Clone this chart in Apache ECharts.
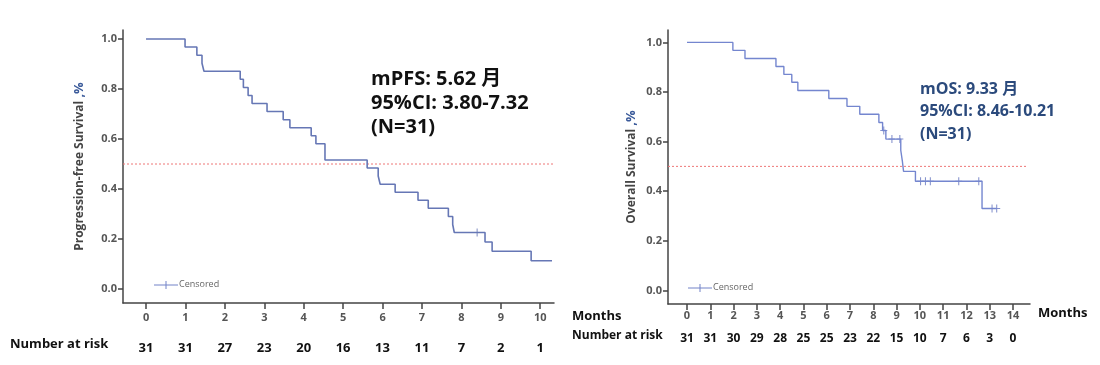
<!DOCTYPE html>
<html><head><meta charset="utf-8">
<script src="https://cdn.jsdelivr.net/npm/echarts@6/dist/echarts.min.js"></script>
<style>html,body{margin:0;padding:0;background:#fff}#c{width:1100px;height:365px}</style>
</head><body><div id="c"></div>
<script>
// ---- PFS (left) ----
const pfsTimes = [0,0.99,1.29,1.42,1.47,2.39,2.47,2.59,2.69,3.07,3.48,3.65,4.19,4.31,4.54,5.61,5.89,5.94,6.32,6.90,7.16,7.67,7.78,7.82,8.60,8.78,9.77,10.30];
const pfsSurv  = [1,0.968,0.935,0.903,0.871,0.839,0.806,0.774,0.742,0.710,0.677,0.645,0.613,0.581,0.516,0.484,0.452,0.419,0.387,0.355,0.323,0.290,0.258,0.226,0.188,0.151,0.113,0.113];
const pfsCensorT = [8.40];
const pfsCensorS = [0.226];
const pfsTicks = [0,1,2,3,4,5,6,7,8,9,10];
const pfsRisk  = [31,31,27,23,20,16,13,11,7,2,1];
// ---- OS (right) ----
const osTimes = [0,1.97,2.49,3.82,4.16,4.50,4.76,6.09,6.87,7.42,8.24,8.40,8.54,9.18,9.25,9.30,9.81,12.67,13.30];
const osSurv  = [1,0.968,0.935,0.903,0.871,0.839,0.806,0.774,0.742,0.710,0.677,0.645,0.610,0.565,0.520,0.480,0.440,0.330,0.330];
const osCensorT = [8.45,8.80,9.14,10.03,10.24,10.45,11.67,12.53,13.10,13.30];
const osCensorS = [0.645,0.610,0.610,0.440,0.440,0.440,0.440,0.440,0.330,0.330];
const osTicks = [0,1,2,3,4,5,6,7,8,9,10,11,12,13,14];
const osRisk  = [31,31,30,29,28,25,25,23,22,15,10,7,6,3,0];
const yTicks = [0,0.2,0.4,0.6,0.8,1.0];
const refLevel = 0.5;

const zip = (a,b) => a.map((v,i)=>[v,b[i]]);
const plus = 'path://M-0.6,-5H0.6V-0.6H4V0.6H0.6V5H-0.6V0.6H-4V-0.6H-0.6Z';
const axisColor = '#444';
const fontFam = '"Open Sans","Noto Sans CJK SC",sans-serif';

function xAx(grid, min, max, ticks, labelMargin){
  return {type:'value', gridIndex:grid, min:min, max:max,
    axisLine:{show:true, onZero:false, lineStyle:{color:axisColor, width:1.5}},
    axisTick:{show:true, length:6, customValues:ticks, lineStyle:{color:axisColor, width:1.5}},
    axisLabel:{customValues:ticks, margin:labelMargin, fontSize:11, fontWeight:'bold', color:'#555', fontFamily:fontFam},
    splitLine:{show:false}};
}
function riskAx(grid, min, max, ticks, risk, offset, size, margin){
  return {type:'value', gridIndex:grid, min:min, max:max, position:'bottom', offset:offset,
    axisLine:{show:false}, axisTick:{show:false}, splitLine:{show:false},
    axisLabel:{customValues:ticks, margin:margin, fontSize:size, fontWeight:'bold', color:'#111', fontFamily:fontFam,
      formatter:v=>String(risk[ticks.indexOf(Math.round(v))])}};
}
function yAx(grid, min, max, name, gap){
  return {type:'value', gridIndex:grid, min:min, max:max,
    name:name, nameLocation:'middle', nameGap:gap, nameRotate:90,
    nameTextStyle:{fontSize:12, fontWeight:'bold', color:'#444', fontFamily:fontFam,
      rich:{a:{fontSize:12, fontWeight:'bold', color:'#444', fontFamily:fontFam},
            b:{fontSize:13, fontWeight:'bold', color:'#3a5a9a', fontFamily:fontFam}}},
    axisLine:{show:true, onZero:false, lineStyle:{color:axisColor, width:1.5}},
    axisTick:{show:true, length:5, customValues:yTicks, lineStyle:{color:axisColor, width:1.5}},
    axisLabel:{customValues:yTicks, margin:6, fontSize:11, fontWeight:'bold', color:'#555', fontFamily:fontFam,
      formatter:v=>v.toFixed(1)},
    splitLine:{show:false}};
}

const L = {min:-0.584, max:10.35}, R = {min:-0.816, max:14.73};

const option = {
  animation:false,
  backgroundColor:'#fff',
  grid:[{left:123, right:546, top:30, bottom:62},{left:668, right:70, top:30, bottom:61}],
  xAxis:[xAx(0,L.min,L.max,pfsTicks,9), xAx(1,R.min,R.max,osTicks,6),
         riskAx(0,L.min,L.max,pfsTicks,pfsRisk,30,13,9), riskAx(1,R.min,R.max,osTicks,osRisk,24,12,5)],
  yAxis:[yAx(0,-0.056,1.036,'{a|Progression-free Survival }{b|,%}',37),
         yAx(1,-0.055,1.05,'{a|Overall Survival }{b|,%}',30)],
  series:[
    {type:'line', xAxisIndex:0, yAxisIndex:0, data:[[L.min,refLevel],[L.max,refLevel]], showSymbol:false,
      lineStyle:{color:'#ee7777', width:1, type:[2,2]}, silent:true},
    {type:'line', xAxisIndex:0, yAxisIndex:0, step:'end', data:zip(pfsTimes,pfsSurv), showSymbol:false,
      lineStyle:{color:'#6677b5', width:1.6}},
    {type:'scatter', xAxisIndex:0, yAxisIndex:0, data:zip(pfsCensorT,pfsCensorS), symbol:plus, symbolSize:[7,8],
      itemStyle:{color:'#6677b5'}},
    {type:'line', xAxisIndex:1, yAxisIndex:1, data:[[R.min,refLevel],[14.6,refLevel]], showSymbol:false,
      lineStyle:{color:'#ee7777', width:1, type:[2,2]}, silent:true},
    {type:'line', xAxisIndex:1, yAxisIndex:1, step:'end', data:zip(osTimes,osSurv), showSymbol:false,
      lineStyle:{color:'#7486cf', width:1.4}},
    {type:'scatter', xAxisIndex:1, yAxisIndex:1, data:zip(osCensorT,osCensorS), symbol:plus, symbolSize:[7,8],
      itemStyle:{color:'#6677c0'}}
  ],
  graphic:[
    // left annotation
    {type:'text', left:371, top:69, style:{text:'mPFS: 5.62 月', font:'bold 20px '+fontFam, fill:'#111'}},
    {type:'text', left:371, top:93, style:{text:'95%CI: 3.80-7.32', font:'bold 20px '+fontFam, fill:'#111'}},
    {type:'text', left:371, top:117, style:{text:'(N=31)', font:'bold 20px '+fontFam, fill:'#111'}},
    // right annotation
    {type:'text', left:920, top:81, style:{text:'mOS: 9.33 月', font:'bold 16px '+fontFam, fill:'#2b4a7c'}},
    {type:'text', left:920, top:103, style:{text:'95%CI: 8.46-10.21', font:'bold 16px '+fontFam, fill:'#2b4a7c'}},
    {type:'text', left:920, top:126, style:{text:'(N=31)', font:'bold 16px '+fontFam, fill:'#2b4a7c'}},
    // legends
    {type:'line', shape:{x1:154, y1:285, x2:178, y2:285}, style:{stroke:'#7383c8', lineWidth:1}},
    {type:'line', shape:{x1:166, y1:281, x2:166, y2:289}, style:{stroke:'#7383c8', lineWidth:1}},
    {type:'text', left:179, top:280, style:{text:'Censored', font:'9px '+fontFam, fill:'#666'}},
    {type:'line', shape:{x1:688, y1:288, x2:712, y2:288}, style:{stroke:'#7383c8', lineWidth:1}},
    {type:'line', shape:{x1:700, y1:284, x2:700, y2:292}, style:{stroke:'#7383c8', lineWidth:1}},
    {type:'text', left:713, top:283, style:{text:'Censored', font:'9px '+fontFam, fill:'#666'}},
    // row labels
    {type:'text', left:10, top:338, style:{text:'Number at risk', font:'bold 13px '+fontFam, fill:'#111'}},
    {type:'text', left:572, top:310, style:{text:'Months', font:'bold 13px '+fontFam, fill:'#111'}},
    {type:'text', left:572, top:330, style:{text:'Number at risk', font:'bold 12px '+fontFam, fill:'#111'}},
    {type:'text', left:1038, top:307, style:{text:'Months', font:'bold 13px '+fontFam, fill:'#111'}}
  ]
};
echarts.init(document.getElementById('c')).setOption(option);
</script>
</body></html>
